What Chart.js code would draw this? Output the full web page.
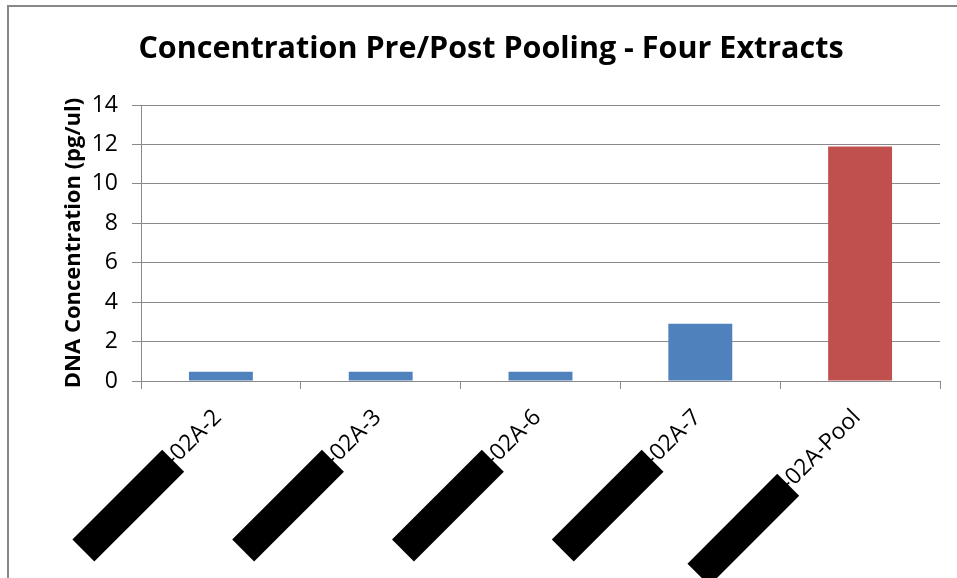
<!DOCTYPE html>
<html>
<head>
<meta charset="utf-8">
<script src="https://cdn.jsdelivr.net/npm/chart.js@4.4.1/dist/chart.umd.min.js"></script>
<style>
html,body{margin:0;padding:0;background:#fff;}
#wrap{width:957px;height:578px;position:relative;}
</style>
</head>
<body>
<div id="wrap"><canvas id="c" width="957" height="578"></canvas></div>
<script>
const categories = ["-02A-2", "-02A-3", "-02A-6", "-02A-7", "-02A-Pool"];
const concentration = [0.47, 0.47, 0.47, 2.9, 11.9];
const barColors = ["#4F81BD", "#4F81BD", "#4F81BD", "#4F81BD", "#C0504D"];
const yTicks = [0, 2, 4, 6, 8, 10, 12, 14];
const chartTitle = "Concentration Pre/Post Pooling - Four Extracts";
const yTitle = "DNA Concentration (pg/ul)";

const FONT = "'Open Sans', sans-serif";
const GRID = "#898989";
const X_TICK_LEN = 8, X_PAD = 15;

const framePlugin = {
  id: 'frame',
  beforeDraw(chart) {
    const ctx = chart.ctx;
    ctx.save();
    ctx.fillStyle = '#fff';
    ctx.fillRect(0, 0, chart.width, chart.height);
    ctx.strokeStyle = '#888888';
    ctx.lineWidth = 2;
    ctx.beginPath();
    ctx.moveTo(8, chart.height + 5);
    ctx.lineTo(8, 6);
    ctx.lineTo(chart.width + 5, 6);
    ctx.stroke();
    ctx.restore();
  }
};

const redactPlugin = {
  id: 'redact',
  afterDraw(chart) {
    const xs = chart.scales.x;
    const ctx = chart.ctx;
    const items = xs.getLabelItems();
    items.forEach((it) => {
      const o = it.options;
      const f = it.font;
      ctx.save();
      ctx.font = f.string;
      ctx.textBaseline = o.textBaseline;
      const label = Array.isArray(it.label) ? it.label[0] : it.label;
      const w = ctx.measureText(label).width;
      const m = ctx.measureText('0');
      const mid = it.textOffset + (m.actualBoundingBoxDescent - m.actualBoundingBoxAscent) / 2;
      ctx.translate(o.translation[0], o.translation[1]);
      ctx.rotate(o.rotation);
      ctx.fillStyle = '#000';
      ctx.fillRect(-(w + 123), mid - 12, 127, 31);
      ctx.restore();
    });
  }
};

new Chart(document.getElementById('c'), {
  type: 'bar',
  data: {
    labels: categories,
    datasets: [{
      data: concentration,
      backgroundColor: barColors,
      borderWidth: 0,
      barPercentage: 0.4,
      categoryPercentage: 1.0
    }]
  },
  plugins: [framePlugin, redactPlugin],
  options: {
    responsive: false,
    animation: false,
    devicePixelRatio: 1,
    layout: { padding: { left: 42, right: 17, top: 14, bottom: 0 } },
    plugins: {
      legend: { display: false },
      tooltip: { enabled: false },
      title: {
        display: true,
        text: chartTitle,
        color: '#000',
        font: { family: FONT, size: 30.5, weight: 'bold', lineHeight: 1.2 },
        padding: { top: 17, bottom: 37.4 }
      }
    },
    scales: {
      x: {
        grid: { display: true, drawOnChartArea: false, drawTicks: true, tickLength: X_TICK_LEN, color: GRID, offset: true },
        border: { display: true, color: GRID, width: 1 },
        ticks: {
          color: '#000',
          font: { family: FONT, size: 23 },
          maxRotation: 45, minRotation: 45,
          padding: X_PAD,
          labelOffset: -3,
          autoSkip: false
        },
        afterFit(s) { s.height = 197; }
      },
      y: {
        min: 0, max: 14,
        afterBuildTicks(s) { s.ticks = yTicks.map(v => ({ value: v })); },
        grid: { color: GRID, tickLength: 9, drawTicks: true },
        border: { display: true, color: GRID, width: 1 },
        ticks: { color: '#000', font: { family: FONT, size: 23 }, padding: 14 },
        title: {
          display: true,
          text: yTitle,
          color: '#000',
          font: { family: FONT, size: 22, weight: 'bold' },
          padding: { top: 19, bottom: 0 }
        },
        afterFit(s) { s.width = 99; }
      }
    }
  }
});
</script>
</body>
</html>
